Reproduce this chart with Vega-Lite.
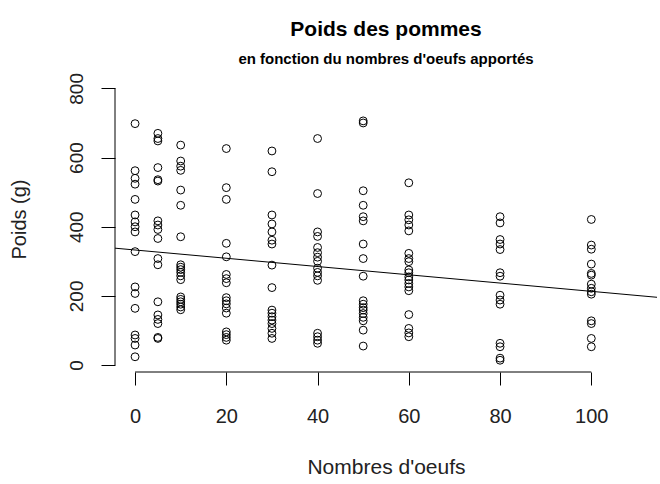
{
  "$schema": "https://vega.github.io/schema/vega-lite/v6.json",
  "width": 542,
  "height": 294,
  "autosize": {"type": "none"},
  "padding": {"left": 115, "top": 78, "right": 3, "bottom": 112},
  "background": "white",
  "config": {"view": {"stroke": null}, "font": "Liberation Sans"},
  "title": {
    "text": "Poids des pommes",
    "subtitle": "en fonction du nombres d'oeufs apportés",
    "font": "Liberation Sans",
    "subtitleFont": "Liberation Sans",
    "fontSize": 21,
    "subtitleFontSize": 15,
    "fontWeight": "bold",
    "subtitleFontWeight": "bold",
    "color": "black",
    "subtitleColor": "black",
    "anchor": "middle",
    "frame": "group",
    "offset": 6,
    "subtitlePadding": 12
  },
  "datasets": {
    "pts": [
      {"oeufs": 0, "poids": 698}, {"oeufs": 0, "poids": 562}, {"oeufs": 0, "poids": 540}, {"oeufs": 0, "poids": 523}, {"oeufs": 0, "poids": 479}, {"oeufs": 0, "poids": 434}, {"oeufs": 0, "poids": 414}, {"oeufs": 0, "poids": 400}, {"oeufs": 0, "poids": 385}, {"oeufs": 0, "poids": 328}, {"oeufs": 0, "poids": 226}, {"oeufs": 0, "poids": 207}, {"oeufs": 0, "poids": 164}, {"oeufs": 0, "poids": 87}, {"oeufs": 0, "poids": 77}, {"oeufs": 0, "poids": 58}, {"oeufs": 0, "poids": 24},
      {"oeufs": 5, "poids": 670}, {"oeufs": 5, "poids": 655}, {"oeufs": 5, "poids": 648}, {"oeufs": 5, "poids": 571}, {"oeufs": 5, "poids": 536}, {"oeufs": 5, "poids": 532}, {"oeufs": 5, "poids": 417}, {"oeufs": 5, "poids": 405}, {"oeufs": 5, "poids": 392}, {"oeufs": 5, "poids": 366}, {"oeufs": 5, "poids": 308}, {"oeufs": 5, "poids": 290}, {"oeufs": 5, "poids": 183}, {"oeufs": 5, "poids": 145}, {"oeufs": 5, "poids": 132}, {"oeufs": 5, "poids": 120}, {"oeufs": 5, "poids": 80}, {"oeufs": 5, "poids": 77},
      {"oeufs": 10, "poids": 636}, {"oeufs": 10, "poids": 590}, {"oeufs": 10, "poids": 575}, {"oeufs": 10, "poids": 563}, {"oeufs": 10, "poids": 506}, {"oeufs": 10, "poids": 462}, {"oeufs": 10, "poids": 371}, {"oeufs": 10, "poids": 290}, {"oeufs": 10, "poids": 283}, {"oeufs": 10, "poids": 276}, {"oeufs": 10, "poids": 268}, {"oeufs": 10, "poids": 258}, {"oeufs": 10, "poids": 247}, {"oeufs": 10, "poids": 197}, {"oeufs": 10, "poids": 190}, {"oeufs": 10, "poids": 183}, {"oeufs": 10, "poids": 176}, {"oeufs": 10, "poids": 168}, {"oeufs": 10, "poids": 160},
      {"oeufs": 20, "poids": 626}, {"oeufs": 20, "poids": 513}, {"oeufs": 20, "poids": 479}, {"oeufs": 20, "poids": 352}, {"oeufs": 20, "poids": 313}, {"oeufs": 20, "poids": 262}, {"oeufs": 20, "poids": 250}, {"oeufs": 20, "poids": 238}, {"oeufs": 20, "poids": 195}, {"oeufs": 20, "poids": 186}, {"oeufs": 20, "poids": 177}, {"oeufs": 20, "poids": 165}, {"oeufs": 20, "poids": 150}, {"oeufs": 20, "poids": 96}, {"oeufs": 20, "poids": 88}, {"oeufs": 20, "poids": 80}, {"oeufs": 20, "poids": 72},
      {"oeufs": 30, "poids": 619}, {"oeufs": 30, "poids": 559}, {"oeufs": 30, "poids": 434}, {"oeufs": 30, "poids": 408}, {"oeufs": 30, "poids": 385}, {"oeufs": 30, "poids": 361}, {"oeufs": 30, "poids": 350}, {"oeufs": 30, "poids": 289}, {"oeufs": 30, "poids": 224}, {"oeufs": 30, "poids": 159}, {"oeufs": 30, "poids": 150}, {"oeufs": 30, "poids": 140}, {"oeufs": 30, "poids": 130}, {"oeufs": 30, "poids": 120}, {"oeufs": 30, "poids": 106}, {"oeufs": 30, "poids": 92}, {"oeufs": 30, "poids": 77},
      {"oeufs": 40, "poids": 655}, {"oeufs": 40, "poids": 496}, {"oeufs": 40, "poids": 385}, {"oeufs": 40, "poids": 372}, {"oeufs": 40, "poids": 340}, {"oeufs": 40, "poids": 325}, {"oeufs": 40, "poids": 312}, {"oeufs": 40, "poids": 300}, {"oeufs": 40, "poids": 280}, {"oeufs": 40, "poids": 268}, {"oeufs": 40, "poids": 258}, {"oeufs": 40, "poids": 245}, {"oeufs": 40, "poids": 92}, {"oeufs": 40, "poids": 82}, {"oeufs": 40, "poids": 72}, {"oeufs": 40, "poids": 63},
      {"oeufs": 50, "poids": 706}, {"oeufs": 50, "poids": 700}, {"oeufs": 50, "poids": 504}, {"oeufs": 50, "poids": 462}, {"oeufs": 50, "poids": 429}, {"oeufs": 50, "poids": 417}, {"oeufs": 50, "poids": 350}, {"oeufs": 50, "poids": 308}, {"oeufs": 50, "poids": 257}, {"oeufs": 50, "poids": 186}, {"oeufs": 50, "poids": 176}, {"oeufs": 50, "poids": 166}, {"oeufs": 50, "poids": 159}, {"oeufs": 50, "poids": 149}, {"oeufs": 50, "poids": 138}, {"oeufs": 50, "poids": 128}, {"oeufs": 50, "poids": 101}, {"oeufs": 50, "poids": 55},
      {"oeufs": 60, "poids": 527}, {"oeufs": 60, "poids": 434}, {"oeufs": 60, "poids": 420}, {"oeufs": 60, "poids": 405}, {"oeufs": 60, "poids": 388}, {"oeufs": 60, "poids": 323}, {"oeufs": 60, "poids": 308}, {"oeufs": 60, "poids": 299}, {"oeufs": 60, "poids": 275}, {"oeufs": 60, "poids": 267}, {"oeufs": 60, "poids": 255}, {"oeufs": 60, "poids": 246}, {"oeufs": 60, "poids": 236}, {"oeufs": 60, "poids": 226}, {"oeufs": 60, "poids": 215}, {"oeufs": 60, "poids": 146}, {"oeufs": 60, "poids": 106}, {"oeufs": 60, "poids": 93}, {"oeufs": 60, "poids": 82},
      {"oeufs": 80, "poids": 429}, {"oeufs": 80, "poids": 411}, {"oeufs": 80, "poids": 363}, {"oeufs": 80, "poids": 350}, {"oeufs": 80, "poids": 334}, {"oeufs": 80, "poids": 267}, {"oeufs": 80, "poids": 257}, {"oeufs": 80, "poids": 202}, {"oeufs": 80, "poids": 188}, {"oeufs": 80, "poids": 176}, {"oeufs": 80, "poids": 63}, {"oeufs": 80, "poids": 53}, {"oeufs": 80, "poids": 20}, {"oeufs": 80, "poids": 14},
      {"oeufs": 100, "poids": 421}, {"oeufs": 100, "poids": 347}, {"oeufs": 100, "poids": 335}, {"oeufs": 100, "poids": 292}, {"oeufs": 100, "poids": 265}, {"oeufs": 100, "poids": 260}, {"oeufs": 100, "poids": 234}, {"oeufs": 100, "poids": 222}, {"oeufs": 100, "poids": 212}, {"oeufs": 100, "poids": 205}, {"oeufs": 100, "poids": 128}, {"oeufs": 100, "poids": 120}, {"oeufs": 100, "poids": 77}, {"oeufs": 100, "poids": 53}
    ],
    "fit": [
      {"oeufs": -4.4, "poids": 338},
      {"oeufs": 114.4, "poids": 196}
    ],
    "one": [{}]
  },
  "layer": [
    {
      "data": {"name": "pts"},
      "mark": {"type": "point", "shape": "circle", "filled": false, "stroke": "black", "strokeWidth": 1, "size": 62, "opacity": 1},
      "encoding": {
        "x": {
          "field": "oeufs", "type": "quantitative",
          "scale": {"domain": [-4.4, 114.4], "nice": false, "zero": false},
          "axis": {
            "title": "Nombres d'oeufs",
            "values": [0, 20, 40, 60, 80, 100],
            "domain": false,
            "grid": false,
            "ticks": true,
            "tickSize": 13,
            "tickColor": "black",
            "tickWidth": 1,
            "labelFont": "Liberation Sans",
            "labelFontSize": 20,
            "labelColor": "#222",
            "labelBaseline": "alphabetic",
            "labelPadding": 37,
            "labelFlush": false,
            "labelOverlap": false,
            "titleFont": "Liberation Sans",
            "titleFontSize": 21,
            "titleFontWeight": "normal",
            "titleColor": "#222",
            "titleBaseline": "alphabetic",
            "titleY": 101
          }
        },
        "y": {
          "field": "poids", "type": "quantitative",
          "scale": {"domain": [-20, 830], "nice": false, "zero": false},
          "axis": {
            "title": "Poids (g)",
            "values": [0, 200, 400, 600, 800],
            "domain": false,
            "grid": false,
            "ticks": true,
            "tickSize": 14,
            "tickColor": "black",
            "tickWidth": 1,
            "labelFont": "Liberation Sans",
            "labelFontSize": 19,
            "labelColor": "#222",
            "labelAngle": 270,
            "labelAlign": "center",
            "labelBaseline": "alphabetic",
            "labelPadding": 19,
            "labelFlush": false,
            "labelOverlap": false,
            "titleFont": "Liberation Sans",
            "titleFontSize": 20,
            "titleFontWeight": "normal",
            "titleColor": "#222",
            "titleAngle": 270,
            "titleBaseline": "alphabetic",
            "titleAlign": "center",
            "titleX": -90,
            "titleY": 141
          }
        }
      }
    },
    {
      "data": {"name": "fit"},
      "mark": {"type": "line", "color": "black", "strokeWidth": 1},
      "encoding": {
        "x": {"field": "oeufs", "type": "quantitative"},
        "y": {"field": "poids", "type": "quantitative"}
      }
    },
    {
      "data": {"name": "one"},
      "mark": {"type": "rule", "color": "black", "strokeWidth": 1},
      "encoding": {
        "x": {"datum": 0, "type": "quantitative"},
        "x2": {"datum": 100},
        "y": {"datum": -20, "type": "quantitative"}
      }
    },
    {
      "data": {"name": "one"},
      "mark": {"type": "rule", "color": "black", "strokeWidth": 1},
      "encoding": {
        "x": {"datum": -4.4, "type": "quantitative"},
        "y": {"datum": 0, "type": "quantitative"},
        "y2": {"datum": 800}
      }
    }
  ]
}
